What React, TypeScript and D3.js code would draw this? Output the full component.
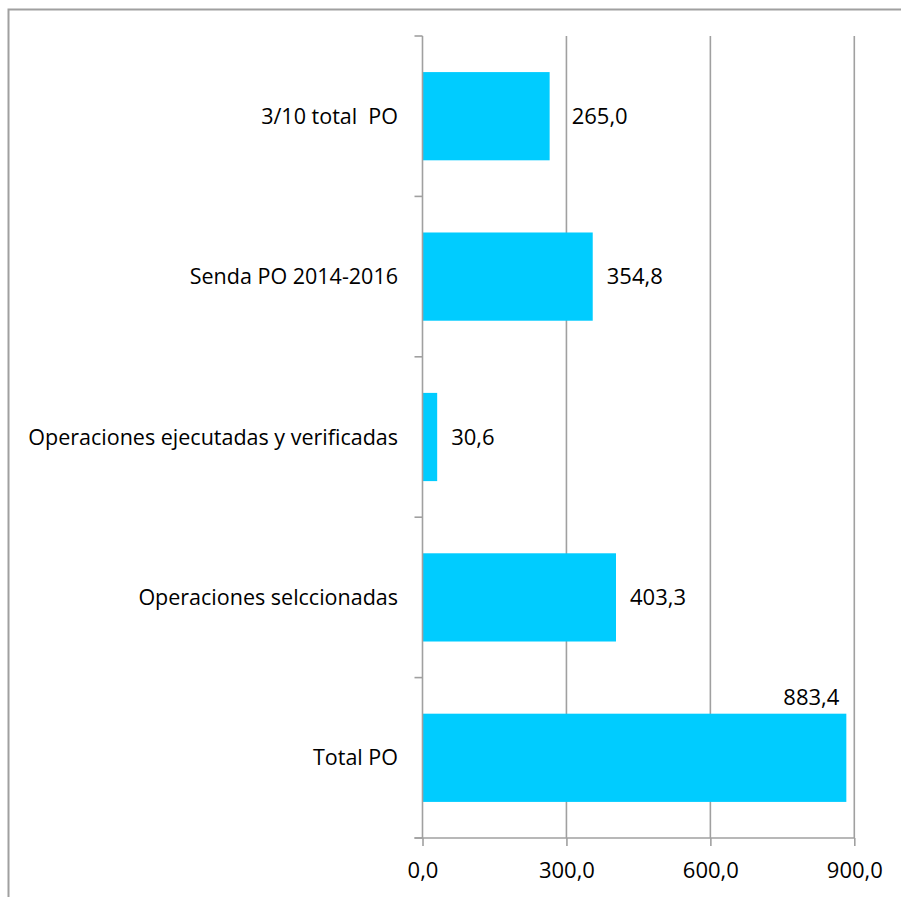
import React, { useEffect, useRef } from 'react';
import * as d3 from 'd3';

const categories = [
  '3/10 total  PO',
  'Senda PO 2014-2016',
  'Operaciones ejecutadas y verificadas',
  'Operaciones selccionadas',
  'Total PO',
];
const values = [265.0, 354.8, 30.6, 403.3, 883.4];
const xTicks = [0, 300, 600, 900];

const W = 901;
const H = 897;
const plot = { left: 422.5, right: 854.3, top: 36, bottom: 838 };
const BAR = '#00CCFF';
const LINE = '#a0a0a0';
const FONT = '"Open Sans", "Noto Sans", sans-serif';
const CAT_SIZE = 21.5;
const NUM_SIZE = 22;
// the first label sits a bit further out in the original, clear of the 300 gridline
const labelNudge: Record<string, number> = { '3/10 total  PO': 8 };

const fmt = (v: number) => d3.format('.1f')(v).replace('.', ',');

export default function App() {
  const svgRef = useRef<SVGSVGElement | null>(null);

  useEffect(() => {
    if (!svgRef.current) return;
    const svg = d3.select(svgRef.current);
    svg.selectAll('*').remove();

    const x = d3.scaleLinear().domain([0, 900]).range([plot.left, plot.right]);
    const y = d3
      .scaleBand<string>()
      .domain(categories)
      .range([plot.top, plot.bottom])
      .paddingInner(0.45)
      .paddingOuter(0.225);
    const step = y.step();

    // outer frame
    svg
      .append('rect')
      .attr('x', 8.5)
      .attr('y', 9.5)
      .attr('width', W + 20)
      .attr('height', H + 20)
      .attr('fill', 'none')
      .attr('stroke', LINE)
      .attr('stroke-width', 2);

    // gridlines
    svg
      .append('g')
      .selectAll('line')
      .data(xTicks.filter((t) => t > 0))
      .join('line')
      .attr('x1', (d) => x(d))
      .attr('x2', (d) => x(d))
      .attr('y1', plot.top)
      .attr('y2', plot.bottom)
      .attr('stroke', LINE)
      .attr('stroke-width', 1.6);

    // bars
    svg
      .append('g')
      .selectAll('rect')
      .data(values)
      .join('rect')
      .attr('x', x(0))
      .attr('y', (_, i) => y(categories[i])!)
      .attr('width', (d) => x(d) - x(0))
      .attr('height', y.bandwidth())
      .attr('fill', BAR);

    // category axis
    const yAxis = svg.append('g');
    yAxis
      .append('line')
      .attr('x1', plot.left)
      .attr('x2', plot.left)
      .attr('y1', plot.top)
      .attr('y2', plot.bottom)
      .attr('stroke', LINE)
      .attr('stroke-width', 1.6);
    yAxis
      .selectAll('line.tick')
      .data(d3.range(categories.length + 1))
      .join('line')
      .attr('class', 'tick')
      .attr('x1', plot.left - 8)
      .attr('x2', plot.left)
      .attr('y1', (i) => plot.top + i * step)
      .attr('y2', (i) => plot.top + i * step)
      .attr('stroke', LINE)
      .attr('stroke-width', 1.6);
    yAxis
      .selectAll('text')
      .data(categories)
      .join('text')
      .attr('x', 398)
      .attr('y', (d) => y(d)! + y.bandwidth() / 2)
      .attr('dy', '0.35em')
      .attr('text-anchor', 'end')
      .attr('font-family', FONT)
      .attr('font-size', CAT_SIZE)
      .attr('fill', '#000')
      .style('white-space', 'pre')
      .text((d) => d);

    // value axis
    const xAxis = svg
      .append('g')
      .attr('transform', `translate(0,${plot.bottom})`)
      .call(
        d3
          .axisBottom(x)
          .tickValues(xTicks)
          .tickSize(8)
          .tickSizeOuter(0)
          .tickPadding(16)
          .tickFormat((d) => fmt(d as number))
      );
    xAxis.select('.domain').attr('d', `M${plot.left - 8},0H${plot.right}`).attr('stroke', LINE).attr('stroke-width', 1.6);
    xAxis.selectAll('.tick line').attr('stroke', LINE).attr('stroke-width', 1.6);
    xAxis
      .selectAll('.tick text')
      .attr('font-family', FONT)
      .attr('font-size', NUM_SIZE)
      .attr('fill', '#000');

    // data labels
    svg
      .append('g')
      .selectAll('text')
      .data(values)
      .join('text')
      .each(function (d, i) {
        const t = d3.select(this);
        const cat = categories[i];
        const outside = x(d) + 14 + 60 > plot.right;
        t.attr('font-family', FONT)
          .attr('font-size', NUM_SIZE)
          .attr('fill', '#000')
          .text(fmt(d));
        if (outside) {
          t.attr('x', x(d) - 7)
            .attr('y', y(cat)! - 16)
            .attr('dy', '0.35em')
            .attr('text-anchor', 'end');
        } else {
          t.attr('x', x(d) + 14 + (labelNudge[cat] ?? 0))
            .attr('y', y(cat)! + y.bandwidth() / 2)
            .attr('dy', '0.35em')
            .attr('text-anchor', 'start');
        }
      });
  }, []);

  return (
    <svg
      ref={svgRef}
      width={W}
      height={H}
      style={{ position: 'absolute', left: 0, top: 0, background: '#fff' }}
    />
  );
}
